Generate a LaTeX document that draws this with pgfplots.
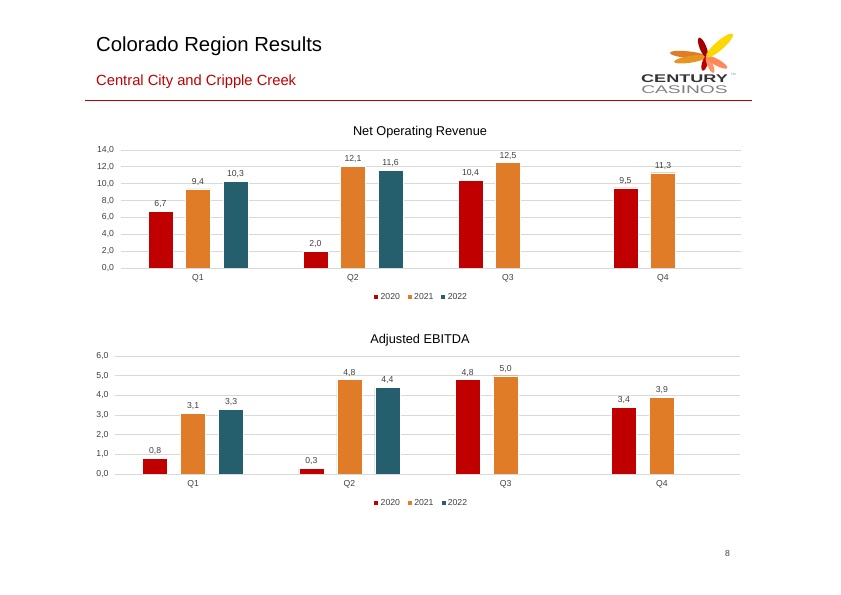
\documentclass[border=0pt]{standalone}
\usepackage{fontspec}
\setmainfont{Liberation Sans}
\usepackage{pgfplots}
\pgfplotsset{compat=1.18}
\definecolor{cred}{RGB}{192,0,0}
\definecolor{corange}{RGB}{224,123,40}
\definecolor{cteal}{RGB}{37,94,108}
\definecolor{gridgray}{RGB}{217,217,217}
\definecolor{txt}{RGB}{64,64,64}
\pgfplotsset{
  slidechart/.style={
    scale only axis, anchor=south west,
    xmin=-0.5, xmax=3.5, xtick={0,1,2,3}, xticklabels={Q1,Q2,Q3,Q4},
    ymin=0, ymajorgrids, grid style={draw=gridgray, line width=0.8bp},
    axis line style={draw=none}, tick style={draw=none},
    bar width=25bp,
    nodes near coords,
    every node near coord/.append style={font=\fontsize{8.7}{10}\selectfont, color=txt, yshift=0bp},
    tick label style={font=\fontsize{8.7}{10}\selectfont, color=txt},
    yticklabel style={xshift=-3bp},
    xticklabel style={yshift=1bp},
    /pgf/number format/.cd, fixed, fixed zerofill, precision=1, use comma, assume math mode=true,
    /pgfplots/.cd,
    legend style={anchor=center, legend columns=-1, draw=none,
      font=\fontsize{8.7}{10}\selectfont, text=txt, inner sep=1bp,
      /tikz/every even column/.append style={column sep=5bp}},
  },
  sqlegend/.style={legend image code/.code={\fill[##1] (0.5bp,-2.5bp) rectangle (5.5bp,2.5bp);}},
}
\begin{document}
\begin{tikzpicture}
\begin{scope}[x=1bp,y=1bp]
\useasboundingbox[fill=white] (0,0) rectangle (841,595);
% slide header
\node[anchor=base west, inner sep=0, font=\fontsize{20.4}{24}\selectfont] at (96,543) {Colorado Region Results};
\node[anchor=base west, inner sep=0, font=\fontsize{14.8}{17}\selectfont, text=cred] at (96,509) {Central City and Cripple Creek};
\draw[cred, line width=1.5bp] (85,494.5) -- (752,494.5);
\node[anchor=base, inner sep=0, font=\fontsize{8.7}{10}\selectfont, text=txt] at (727.5,38.5) {8};
% logo
\def\cx{706.7}\def\cy{538.3}
\fill[corange] (\cx,\cy) ++(174:18.5) ellipse [x radius=18.5, y radius=3.4, rotate=174];
\fill[corange!80!yellow] (\cx,\cy) ++(189:16.5) ellipse [x radius=16.5, y radius=3.4, rotate=189];
\fill[cred!85!black] (\cx,\cy) ++(112:10) ellipse [x radius=10.5, y radius=3.4, rotate=112];
\fill[cred] (\cx,\cy) ++(254:7) ellipse [x radius=7.5, y radius=2.8, rotate=254];
\fill[red!40!orange!60!white] (\cx,\cy) ++(-67:8.5) ellipse [x radius=9, y radius=2.8, rotate=-67];
\fill[red!45!orange!65!white] (\cx,\cy) ++(-29:11.5) ellipse [x radius=12, y radius=3.2, rotate=-29];
\fill[yellow!75!orange] (\cx,\cy) ++(41:17) ellipse [x radius=17.5, y radius=4.4, rotate=41];
\node[inner sep=0, anchor=base, font=\bfseries\fontsize{11.2}{12}\selectfont, text=black!80, xscale=1.62] at (684.5,512.7) {CENTURY};
\node[inner sep=0, anchor=base west, font=\fontsize{3}{3}\selectfont, text=gray] at (731,519.5) {TM};
\node[inner sep=0, anchor=base, font=\fontsize{11.2}{12}\selectfont, text=gray, xscale=1.72] at (684.5,501.7) {CASINOS};
% chart titles
\node[anchor=base, inner sep=0, font=\fontsize{12.8}{15}\selectfont] at (420,459) {Net Operating Revenue};
\node[anchor=base, inner sep=0, font=\fontsize{12.8}{15}\selectfont] at (420,251) {Adjusted EBITDA};
\end{scope}
% chart 1
\begin{axis}[slidechart, at={(120.5bp,327bp)}, width=620bp, height=118bp,
  ymax=14, ytick={0,2,...,14}, ybar=12.5bp, sqlegend,
  legend style={at={(0.485,-0.246)}}]
\addplot[fill=cred, draw=white, line width=0.3bp] coordinates {(0,6.7) (1,2.0) (2,10.4) (3,9.5)};
\addplot[fill=corange, draw=white, line width=0.3bp] coordinates {(0,9.4) (1,12.1) (2,12.5) (3,11.3)};
\addplot[fill=cteal, draw=white, line width=0.3bp] coordinates {(0,10.3) (1,11.6)};
\legend{2020,2021,2022}
\end{axis}
% chart 2
\begin{axis}[slidechart, at={(115bp,121bp)}, width=625bp, height=118bp,
  ymax=6, ytick={0,1,...,6}, ybar=13bp, sqlegend,
  legend style={at={(0.49,-0.246)}}]
\addplot[fill=cred, draw=white, line width=0.3bp] coordinates {(0,0.8) (1,0.3) (2,4.8) (3,3.4)};
\addplot[fill=corange, draw=white, line width=0.3bp] coordinates {(0,3.1) (1,4.8) (2,5.0) (3,3.9)};
\addplot[fill=cteal, draw=white, line width=0.3bp] coordinates {(0,3.3) (1,4.4)};
\legend{2020,2021,2022}
\end{axis}
\end{tikzpicture}
\end{document}
